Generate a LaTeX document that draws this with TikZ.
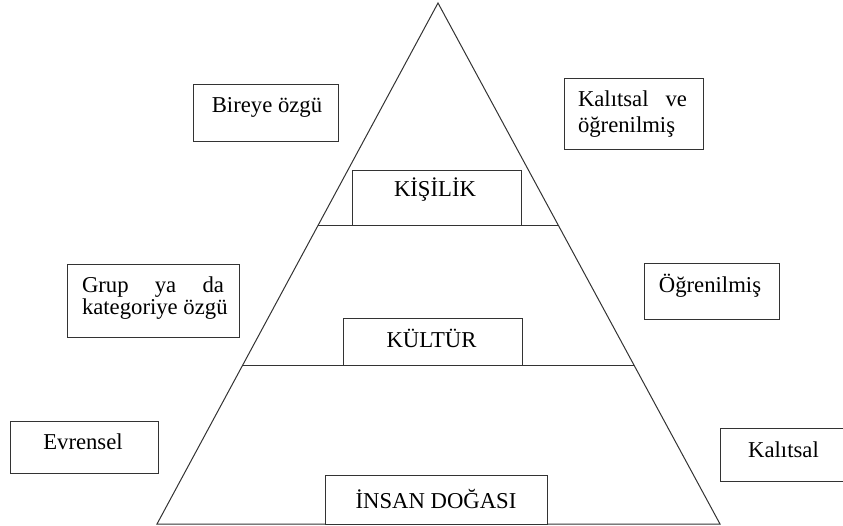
\documentclass[tikz,border=0pt]{standalone}
\usepackage{fontspec}
\setmainfont{Liberation Serif}
\usetikzlibrary{calc}
\begin{document}
\begin{tikzpicture}[x=1pt,y=-1pt,
  edge/.style={draw=black!80,line width=1pt},
  box/.style={rectangle,draw=black!80,line width=1pt,fill=white,inner sep=0pt,outer sep=0pt},
  lbl/.style={inner sep=0pt,outer sep=0pt,font=\fontsize{22.7}{26}\selectfont}]
\useasboundingbox (0,0) rectangle (843,526);
\clip (0,0) rectangle (843,526);

% pyramid outline
\coordinate (apex) at (438,3);
\coordinate (bl) at (157,524);
\coordinate (br) at (720,524);
\draw[edge,line join=miter] (apex) -- (bl) -- (br) -- cycle;

% level dividers
\coordinate (d1l) at ($(apex)!0.428!(bl)$);
\coordinate (d1r) at ($(apex)!0.428!(br)$);
\coordinate (d2l) at ($(apex)!0.6967!(bl)$);
\coordinate (d2r) at ($(apex)!0.6967!(br)$);
\draw[edge] (d1l) -- (d1r);
\draw[edge] (d2l) -- (d2r);

% level boxes inside the pyramid
\node[box,minimum width=169pt,minimum height=55pt] (kisilik) at (436.5,198.5) {};
\node[lbl,anchor=base] (kisilikT) at (435,197) {KİŞİLİK};
\node[box,minimum width=179pt,minimum height=47pt] (kultur) at (432.5,342.5) {};
\node[lbl,anchor=base] (kulturT) at (431.5,348) {KÜLTÜR};
\node[box,minimum width=222pt,minimum height=49pt] (insan) at (436,499.5) {};
\node[lbl,anchor=base] (insanT) at (436,508) {İNSAN DOĞASI};

% left-side descriptions
\node[box,minimum width=145pt,minimum height=57pt] (bireye) at (265.5,113.5) {};
\node[lbl,anchor=base] (bireyeT) at (267,113) {Bireye özgü};
\node[box,minimum width=172pt,minimum height=73pt] (grup) at (153,301.5) {};
\node[lbl,anchor=base west] (grupA) at (82,293) {\hbox to 142pt{Grup\hfill ya\hfill da}};
\node[lbl,anchor=base west] (grupB) at (82,315) {kategoriye özgü};
\node[box,minimum width=148pt,minimum height=52pt] (evrensel) at (84,447) {};
\node[lbl,anchor=base] (evrenselT) at (83,449) {Evrensel};

% right-side descriptions
\node[box,minimum width=139pt,minimum height=71pt] (kalogr) at (633.5,114.5) {};
\node[lbl,anchor=base west] (kalogrA) at (578,107) {\hbox to 109pt{Kalıtsal\hfill ve}};
\node[lbl,anchor=base west] (kalogrB) at (578,133) {öğrenilmiş};
\node[box,minimum width=135pt,minimum height=56pt] (ogren) at (711.5,292) {};
\node[lbl,anchor=base] (ogrenT) at (710,293) {Öğrenilmiş};
\node[box,minimum width=140pt,minimum height=53pt] (kalitsal) at (790,454.5) {};
\node[lbl,anchor=base] (kalitsalT) at (783.5,457) {Kalıtsal};
\end{tikzpicture}
\end{document}
